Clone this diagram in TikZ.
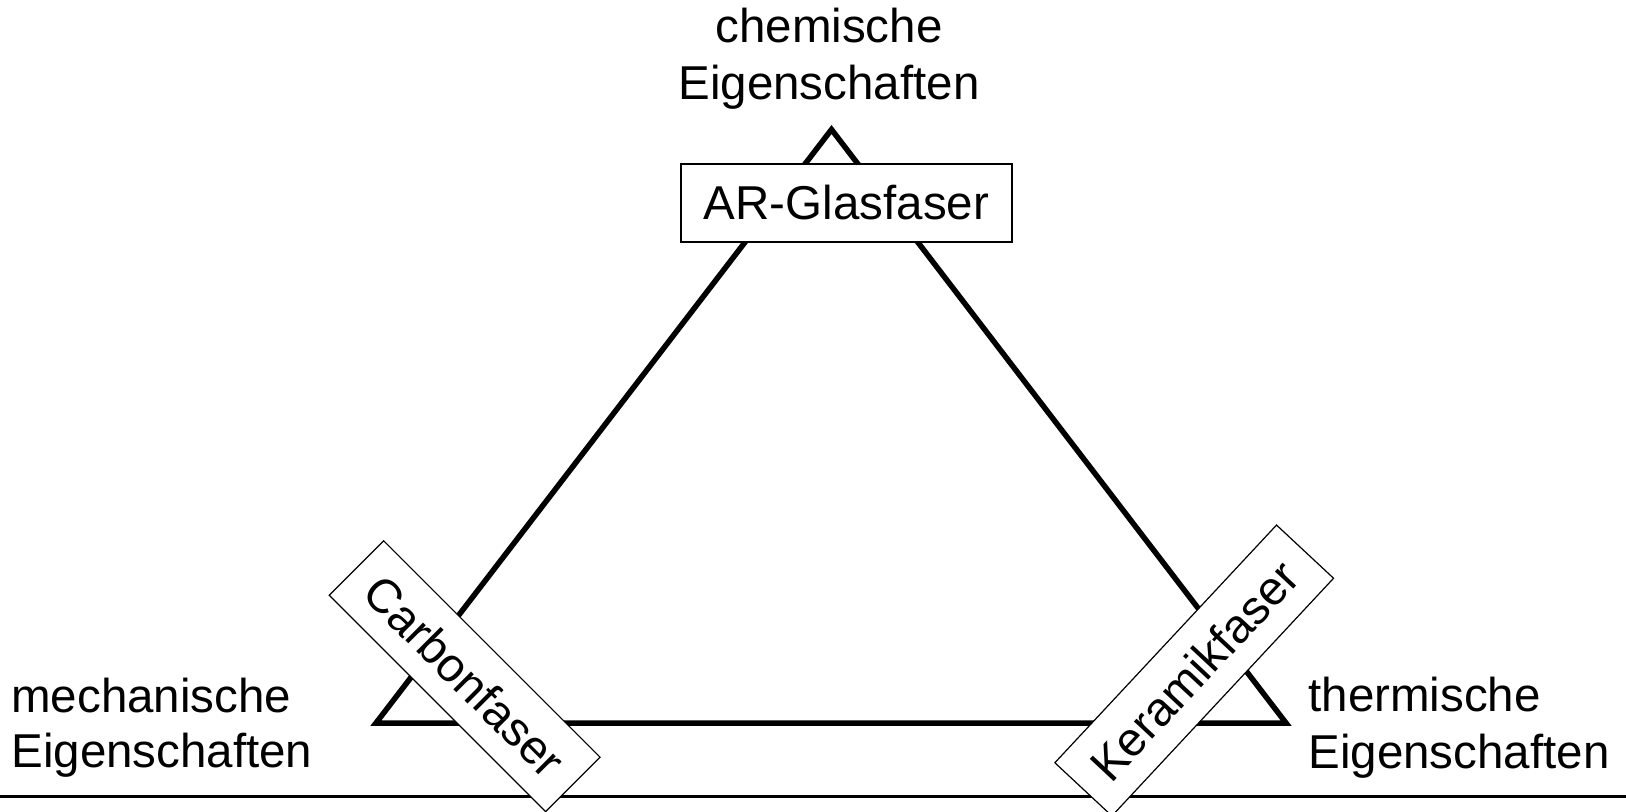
\documentclass[tikz,border=0pt]{standalone}
\usepackage{fontspec}
\setmainfont{Liberation Sans}
\begin{document}
\begin{tikzpicture}[x=0.5pt,y=-0.5pt,
  lbl/.style={inner sep=0pt, align=left, font=\fontsize{23.75pt}{28pt}\selectfont},
  fiberbox/.style={draw, line width=0.6pt, fill=white, inner sep=0pt,
    font=\fontsize{23.75pt}{28pt}\selectfont, minimum height=38.5pt},
  tri/.style={line width=2.75pt, line join=miter},
  baseline/.style={line width=1.4pt}]
\useasboundingbox (0,0) rectangle (1626,812);
% triangle
\coordinate (top) at (831.5,129.5);
\coordinate (bl) at (376,723);
\coordinate (br) at (1286,723);
\draw[tri] (top) -- (bl) -- (br) -- cycle;
% bottom rule
\coordinate (ruleL) at (0,796.5);
\coordinate (ruleR) at (1626,796.5);
\draw[baseline] (ruleL) -- (ruleR);
% corner labels (base anchor = baseline of the last line)
\node[lbl, align=center, anchor=base, font=\fontsize{23.75pt}{28.7pt}\selectfont] (chem) at (829,100) {chemische\\Eigenschaften};
\node[lbl, anchor=base west, font=\fontsize{23.75pt}{27.3pt}\selectfont] (mech) at (11,767.5) {mechanische\\Eigenschaften};
\node[lbl, anchor=base west, font=\fontsize{23.75pt}{28.2pt}\selectfont] (therm) at (1308,768) {thermische\\Eigenschaften};
% fibre boxes
\node[fiberbox, minimum width=165.5pt, minimum height=39pt] (ar) at (846.5,203) {AR-Glasfaser};
\node[fiberbox, minimum width=153pt, rotate=-45] (carbon) at (464.6,676.2) {Carbonfaser};
\node[fiberbox, minimum width=162.5pt, minimum height=39pt, rotate=47] (keramik) at (1194.2,670.5) {Keramikfaser};
\end{tikzpicture}
\end{document}
